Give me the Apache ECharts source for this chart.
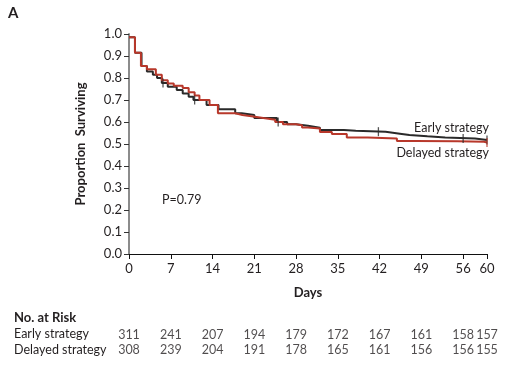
<!DOCTYPE html>
<html>
<head>
<meta charset="utf-8">
<script src="https://cdn.jsdelivr.net/npm/echarts@6/dist/echarts.min.js"></script>
<style>html,body{margin:0;padding:0;background:#fff}#c{width:512px;height:370px}</style>
</head>
<body>
<div id="c"></div>
<script>
// ---- data ----
var xTicks = [0, 7, 14, 21, 28, 35, 42, 49, 56, 60];
var yTicks = [0, 0.1, 0.2, 0.3, 0.4, 0.5, 0.6, 0.7, 0.8, 0.9, 1.0];
var earlyCurve = [[0,0.985],[1.0,0.915],[2.1,0.855],[3,0.83],[4,0.815],[4.7,0.80],[5.5,0.777],[6.5,0.76],[8,0.745],[9,0.73],[10,0.715],[10.8,0.70],[13,0.677],[15,0.658],[17.8,0.64],[18.9,0.632],[21,0.618],[24.8,0.60],[26.5,0.59],[28,0.583],[30,0.574],[32,0.564],[36,0.56],[38,0.556],[43,0.547],[45.4,0.541],[47,0.535],[50,0.53],[53,0.525],[58,0.518],[60,0.518]];
var delayedCurve = [[0,0.985],[1.0,0.915],[2.0,0.855],[3,0.84],[4.5,0.815],[5.5,0.79],[6.5,0.775],[7.5,0.765],[9,0.755],[10,0.735],[11,0.72],[11.8,0.70],[13.5,0.677],[14.9,0.64],[17.8,0.632],[19,0.625],[20.8,0.618],[22.5,0.61],[24.5,0.60],[25.8,0.59],[28,0.585],[29,0.575],[30,0.57],[32,0.555],[34,0.545],[36.5,0.53],[40,0.525],[44.9,0.514],[48,0.512],[55,0.51],[59.5,0.507],[60,0.507]];
var earlyCensorDays = [5.7, 11, 25, 41.8, 56, 60];
var delayedCensorDays = [60];
var riskDays = [0, 7, 14, 21, 28, 35, 42, 49, 56, 60];
var earlyRisk = [311, 241, 207, 194, 179, 172, 167, 161, 158, 157];
var delayedRisk = [308, 239, 204, 191, 178, 165, 161, 156, 156, 155];

function valueAt(curve, d) {
  var v = curve[0][1];
  for (var i = 0; i < curve.length; i++) { if (curve[i][0] <= d) v = curve[i][1]; }
  return v;
}
var FONT = 'Lato';
var FS = 12.5;
var TXT = '#231f20';
var RED = '#b8382b';
var BLK = '#2a2a2a';

var chart = echarts.init(document.getElementById('c'), null, {renderer: 'canvas'});
chart.setOption({
  animation: false,
  textStyle: {fontFamily: FONT},
  grid: [
    {left: 129, right: 25, top: 34, bottom: 116, containLabel: false},
    {left: 129, right: 25, top: 327, height: 30, containLabel: false}
  ],
  xAxis: [{
    gridIndex: 0, type: 'value', min: 0, max: 60,
    axisLine: {show: true, onZero: false, lineStyle: {color: '#111', width: 1}},
    axisTick: {show: true, length: 5, customValues: xTicks, lineStyle: {color: '#111'}},
    axisLabel: {customValues: xTicks, margin: 8, fontSize: 13, color: TXT, fontFamily: FONT},
    splitLine: {show: false},
    name: 'Days', nameLocation: 'middle', nameGap: 32,
    nameTextStyle: {fontSize: 13, fontWeight: 'bold', color: TXT, fontFamily: FONT}
  }, {
    gridIndex: 1, type: 'value', min: 0, max: 60, show: false
  }],
  yAxis: [{
    gridIndex: 0, type: 'value', min: 0, max: 1,
    axisLine: {show: true, lineStyle: {color: '#8c8c8c', width: 2}},
    axisTick: {show: true, length: 5, customValues: yTicks, lineStyle: {color: '#333'}},
    axisLabel: {customValues: yTicks, margin: 7, fontSize: 13, color: TXT, fontFamily: FONT,
      formatter: function (v) { return v.toFixed(1); }},
    splitLine: {show: false},
    name: 'Proportion  Surviving', nameLocation: 'middle', nameGap: 42,
    nameTextStyle: {fontSize: 13, fontWeight: 'bold', color: TXT, fontFamily: FONT}
  }, {
    gridIndex: 1, type: 'category', data: ['Delayed strategy', 'Early strategy'], show: false
  }],
  series: [
    {type: 'line', step: 'end', xAxisIndex: 0, yAxisIndex: 0, data: earlyCurve, symbol: 'none',
      lineStyle: {color: BLK, width: 2}, z: 2},
    {type: 'line', step: 'end', xAxisIndex: 0, yAxisIndex: 0, data: delayedCurve, symbol: 'none',
      lineStyle: {color: RED, width: 2}, z: 3},
    {type: 'scatter', xAxisIndex: 0, yAxisIndex: 0, symbol: 'rect', symbolSize: [1.3, 9],
      itemStyle: {color: BLK}, z: 4,
      data: earlyCensorDays.map(function (d) { return [d, valueAt(earlyCurve, d)]; })},
    {type: 'scatter', xAxisIndex: 0, yAxisIndex: 0, symbol: 'rect', symbolSize: [1.3, 9],
      itemStyle: {color: RED}, z: 4,
      data: delayedCensorDays.map(function (d) { return [d, valueAt(delayedCurve, d)]; })},
    {type: 'scatter', xAxisIndex: 1, yAxisIndex: 1, symbolSize: 0,
      label: {show: true, position: 'inside', fontSize: 12.5, color: TXT, fontFamily: FONT,
        formatter: function (p) { return p.value[2]; }},
      data: riskDays.map(function (d, i) { return [d, 'Early strategy', earlyRisk[i]]; })},
    {type: 'scatter', xAxisIndex: 1, yAxisIndex: 1, symbolSize: 0,
      label: {show: true, position: 'inside', fontSize: 12.5, color: TXT, fontFamily: FONT,
        formatter: function (p) { return p.value[2]; }},
      data: riskDays.map(function (d, i) { return [d, 'Delayed strategy', delayedRisk[i]]; })}
  ],
  graphic: [
    {type: 'text', left: 8, top: 6, style: {text: 'A', font: 'bold 15px ' + FONT, fill: TXT}},
    {type: 'text', x: 162, y: 200, style: {text: 'P=0.79', font: FS + 'px ' + FONT, fill: TXT, verticalAlign: 'middle'}},
    {type: 'text', x: 489, y: 128, style: {text: 'Early strategy', font: FS + 'px ' + FONT, fill: TXT, align: 'right', verticalAlign: 'middle'}},
    {type: 'text', x: 489, y: 153, style: {text: 'Delayed strategy', font: FS + 'px ' + FONT, fill: TXT, align: 'right', verticalAlign: 'middle'}},
    {type: 'text', x: 14, y: 318, style: {text: 'No. at Risk', font: 'bold 13px ' + FONT, fill: TXT, verticalAlign: 'middle'}},
    {type: 'text', x: 14, y: 334, style: {text: 'Early strategy', font: FS + 'px ' + FONT, fill: TXT, verticalAlign: 'middle'}},
    {type: 'text', x: 14, y: 349.5, style: {text: 'Delayed strategy', font: FS + 'px ' + FONT, fill: TXT, verticalAlign: 'middle'}}
  ]
});
</script>
</body>
</html>
